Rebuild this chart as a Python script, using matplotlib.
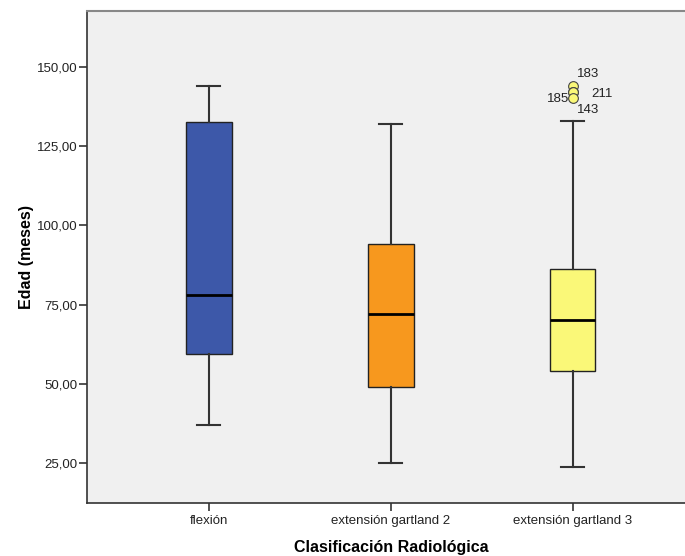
import numpy as np
import matplotlib.pyplot as plt

plt.rcParams['font.family'] = ['Liberation Sans', 'DejaVu Sans']

# datos (meses)
grupos = ["flexión", "extensión gartland 2", "extensión gartland 3"]
whisker_bajo = [37, 25, 24]
q1 = [59.6, 49.2, 54.0]
mediana = [78, 72, 70.3]
q3 = [132.5, 94.0, 86.1]
whisker_alto = [144, 132, 133]
colores = ["#3D58A9", "#F7981E", "#FAF878"]

# valores atípicos del grupo 3 con su número de caso
atipicos = [144, 142, 142, 140]
casos = ["183", "211", "185", "143"]
offsets = [(4, 12), (19, -2), (-4, -7), (4, -12)]
alineacion = ["left", "left", "right", "left"]

stats = []
for i, g in enumerate(grupos):
    stats.append(dict(label=g, whislo=whisker_bajo[i], q1=q1[i], med=mediana[i],
                      q3=q3[i], whishi=whisker_alto[i],
                      fliers=atipicos if i == 2 else []))

fig = plt.figure(figsize=(6.85, 5.56), dpi=100)
ax = fig.add_axes([86.7 / 685, 53.3 / 556, (695 - 86.7) / 685, 492 / 556])
ax.set_facecolor("#F0F0F0")

bp = ax.bxp(stats, positions=[1, 2, 3], widths=0.25, patch_artist=True,
            boxprops=dict(edgecolor="#222222", linewidth=1.0),
            medianprops=dict(color="black", linewidth=2.0),
            whiskerprops=dict(color="#333333", linewidth=1.5),
            capprops=dict(color="#333333", linewidth=1.5),
            capwidths=0.127,
            flierprops=dict(marker="o", markerfacecolor="#FAF878",
                            markeredgecolor="#444444", markersize=7,
                            markeredgewidth=0.8))
for caja, c in zip(bp["boxes"], colores):
    caja.set_facecolor(c)

for v, caso, off, ha in zip(atipicos, casos, offsets, alineacion):
    ax.annotate(caso, xy=(3, v), xytext=off, textcoords="offset pixels",
                ha=ha, va="center", fontsize=9.5, color="#222222")

ax.set_xlim(0.328, 3.672)
ax.set_ylim(12.6, 167.6)
ax.set_yticks([25, 50, 75, 100, 125, 150])
ax.set_yticklabels(["25,00", "50,00", "75,00", "100,00", "125,00", "150,00"])
ax.tick_params(axis="both", labelsize=9.5, color="#333333", length=5.5, width=1.2,
               labelcolor="#222222")
ax.tick_params(axis="y", pad=1)
ax.tick_params(axis="x", pad=3)

for lado in ["left", "bottom"]:
    ax.spines[lado].set_color("#333333")
    ax.spines[lado].set_linewidth(1.2)
ax.spines["top"].set_color("#888888")
ax.spines["top"].set_linewidth(1.5)
ax.spines["right"].set_visible(False)

ax.set_xlabel("Clasificación Radiológica", fontsize=11.5, fontweight="bold", labelpad=9.5)
ax.set_ylabel("Edad (meses)", fontsize=11.5, fontweight="bold", labelpad=2)

fig.savefig("out.png", dpi=100)
